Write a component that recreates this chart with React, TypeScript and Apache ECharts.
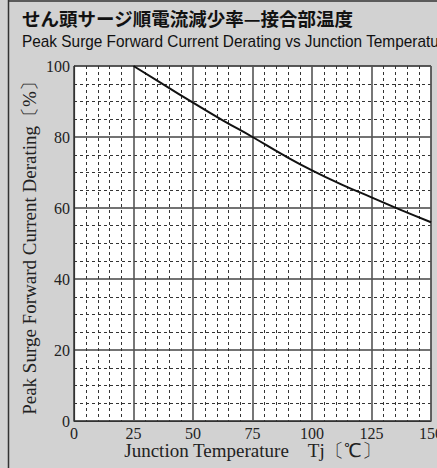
import React, { useEffect, useRef } from "react";
import * as echarts from "echarts";

const titleJa = "せん頭サージ順電流減少率—接合部温度";
const titleEn = "Peak Surge Forward Current Derating vs Junction Temperature";
const xName = "Junction Temperature　Tj〔℃〕";
const yName = "Peak Surge Forward Current Derating〔%〕";

const tempTj = [25, 37.5, 50, 62.5, 75, 87.5, 100, 112.5, 125, 137.5, 150];
const deratingPct = [100, 94.8, 89.7, 84.7, 80, 75.1, 70.6, 66.6, 63, 59.4, 56];

export default function App() {
  const ref = useRef<HTMLDivElement>(null);
  useEffect(() => {
    document.body.style.margin = "0";
    const chart = echarts.init(ref.current!, null, { renderer: "svg" });
    const serif = "Liberation Serif";
    const labelStyle = {
      fontFamily: serif,
      fontSize: 16,
      color: "#222",
      fontWeight: "normal" as const,
      formatter: "{s|{value}}",
      rich: { s: { fontFamily: serif, fontSize: 16, color: "#222" } },
    };
    chart.setOption({
      animation: false,
      backgroundColor: "#d2d2d2",
      textStyle: { fontFamily: serif },
      grid: {
        left: 74,
        right: 6,
        top: 66,
        bottom: 47,
        containLabel: false,
        outerBoundsMode: "none",
        show: true,
        backgroundColor: "#ffffff",
        borderColor: "#333",
        borderWidth: 1,
      },
      graphic: [
        { type: "line", shape: { x1: 8.5, y1: 0, x2: 8.5, y2: 468 }, style: { stroke: "#333", lineWidth: 1.5 } },
        { type: "line", shape: { x1: 8, y1: 1, x2: 437, y2: 1 }, style: { stroke: "#333", lineWidth: 1.5 } },
        {
          type: "text",
          x: 22,
          y: 9,
          style: { text: titleJa, font: "bold 18.5px 'Noto Sans CJK JP', sans-serif", fill: "#111" },
        },
        {
          type: "text",
          x: 22,
          y: 32,
          scaleX: 0.905,
          style: { text: titleEn, font: "17px 'Liberation Sans', sans-serif", fill: "#111" },
        },
      ],
      xAxis: {
        type: "value",
        min: 0,
        max: 150,
        interval: 25,
        name: xName,
        nameLocation: "middle",
        nameGap: 20,
        nameMoveOverlap: false,
        nameTextStyle: { fontFamily: serif, fontSize: 19, color: "#222" },
        axisLine: { show: true, lineStyle: { color: "#333", width: 1.2 } },
        axisTick: { show: false },
        axisLabel: { ...labelStyle, margin: 4 },
        splitLine: { show: true, lineStyle: { color: "#555", width: 1.6 } },
        minorTick: { show: false, splitNumber: 5 },
        minorSplitLine: { show: true, lineStyle: { color: "#333", width: 1, type: [3, 3] } },
      },
      yAxis: {
        type: "value",
        min: 0,
        max: 100,
        interval: 20,
        name: yName,
        nameLocation: "middle",
        nameGap: 35,
        nameMoveOverlap: false,
        nameTextStyle: { fontFamily: serif, fontSize: 19, color: "#222" },
        axisLine: { show: true, lineStyle: { color: "#333", width: 1.2 } },
        axisTick: { show: false },
        axisLabel: { ...labelStyle, margin: 4 },
        splitLine: { show: true, lineStyle: { color: "#444", width: 1.5 } },
        minorTick: { show: false, splitNumber: 4 },
        minorSplitLine: { show: true, lineStyle: { color: "#333", width: 1, type: [3, 3] } },
      },
      series: [
        {
          type: "line",
          data: tempTj.map((t, i) => [t, deratingPct[i]]),
          smooth: true,
          showSymbol: false,
          lineStyle: { color: "#111", width: 2 },
        },
      ],
    });
    return () => chart.dispose();
  }, []);
  return <div ref={ref} style={{ width: 437, height: 468 }} />;
}
